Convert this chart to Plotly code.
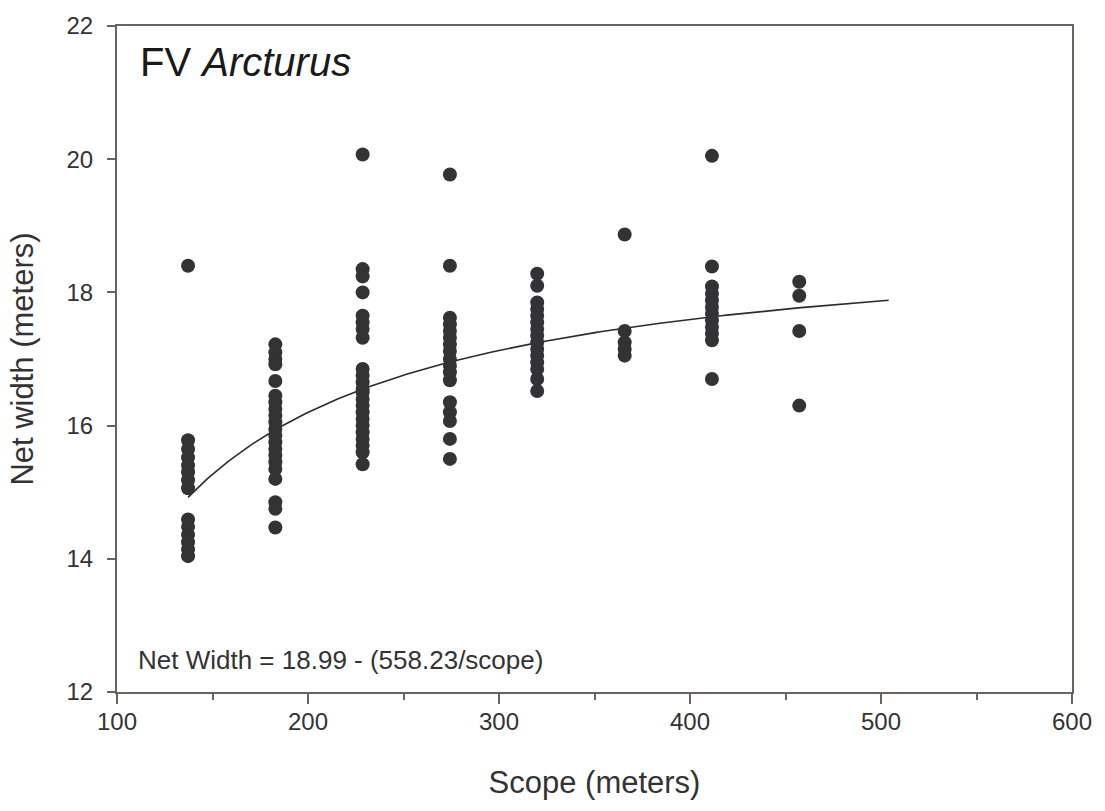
import numpy as np
import plotly.graph_objects as go

# Scope columns (meters) and observed net widths (meters)
scope_137 = [18.40, 15.78, 15.65, 15.52, 15.40, 15.30, 15.18, 15.06, 14.59, 14.48, 14.36, 14.25, 14.14, 14.04]
scope_183 = [17.22, 17.10, 17.00, 16.92, 16.67, 16.45, 16.35, 16.25, 16.15, 16.05, 15.95, 15.85,
             15.75, 15.65, 15.55, 15.45, 15.35, 15.20, 14.85, 14.75, 14.47]
scope_229 = [20.07, 18.35, 18.24, 18.00, 17.65, 17.55, 17.45, 17.32, 16.85, 16.75, 16.65, 16.55,
             16.50, 16.40, 16.30, 16.20, 16.10, 16.00, 15.90, 15.80, 15.70, 15.60, 15.42]
scope_274 = [19.77, 18.40, 17.62, 17.52, 17.42, 17.32, 17.22, 17.12, 17.00, 16.90, 16.80, 16.68,
             16.35, 16.20, 16.07, 15.80, 15.50]
scope_320 = [18.28, 18.10, 17.85, 17.75, 17.65, 17.55, 17.45, 17.35, 17.25, 17.15, 17.05, 16.95,
             16.85, 16.70, 16.52]
scope_366 = [18.87, 17.42, 17.25, 17.15, 17.05]
scope_411 = [20.05, 18.39, 18.09, 17.98, 17.88, 17.78, 17.68, 17.58, 17.48, 17.38, 17.28, 16.70]
scope_457 = [18.16, 17.95, 17.42, 16.30]

scopes = [137.2, 182.9, 228.6, 274.3, 320.0, 365.8, 411.5, 457.2]
widths = [scope_137, scope_183, scope_229, scope_274, scope_320, scope_366, scope_411, scope_457]

# Fitted model shown on the chart: Net Width = a - (b/scope)
fit_a = 18.99
fit_b = 558.23
fit_xmin, fit_xmax = 137.2, 504.0

xs, ys = [], []
for s, w in zip(scopes, widths):
    xs += [s] * len(w)
    ys += w

fx = np.linspace(fit_xmin, fit_xmax, 200)
fy = fit_a - fit_b / fx

font_fam = "Liberation Sans, Arial, sans-serif"
ink = "#333333"
axis_col = "#6a6360"

fig = go.Figure()
fig.add_trace(go.Scatter(x=fx, y=fy, mode="lines",
                         line=dict(color="#2e2a2a", width=1.6), hoverinfo="skip"))
fig.add_trace(go.Scatter(x=xs, y=ys, mode="markers",
                         marker=dict(color="#333336", size=14, line=dict(width=0))))

fig.update_layout(
    width=1105, height=811,
    margin=dict(l=117, r=33, t=20, b=119),
    paper_bgcolor="white", plot_bgcolor="white",
    showlegend=False,
    font=dict(family=font_fam, color=ink),
    xaxis=dict(range=[100, 600], tickvals=[100, 200, 300, 400, 500, 600],
               showgrid=False, zeroline=False,
               showline=True, linecolor=axis_col, linewidth=2, mirror=True,
               ticks="outside", ticklen=10, tickwidth=2, tickcolor=axis_col,
               minor=dict(tickvals=[150, 250, 350, 450, 550], ticks="outside",
                          ticklen=6, tickwidth=2, tickcolor=axis_col),
               ticklabelstandoff=-3,
               tickfont=dict(size=24, color=ink, family=font_fam),
               title=dict(text="Scope (meters)", font=dict(size=31, color=ink, family=font_fam),
                          standoff=38)),
    yaxis=dict(range=[12, 22], tickvals=[12, 14, 16, 18, 20, 22],
               showgrid=False, zeroline=False,
               showline=True, linecolor=axis_col, linewidth=2, mirror=True,
               ticks="outside", ticklen=8, tickwidth=2, tickcolor=axis_col,
               ticklabelstandoff=9,
               tickfont=dict(size=24, color=ink, family=font_fam),
               title=dict(text="Net width (meters)", font=dict(size=31, color=ink, family=font_fam),
                          standoff=24)),
    annotations=[
        dict(text="FV <i>Arcturus</i>", x=0.022, y=0.982, xref="paper", yref="paper",
             xanchor="left", yanchor="top", showarrow=False,
             font=dict(size=40, color="#1a1a1a", family=font_fam)),
        dict(text="Net Width = 18.99 - (558.23/scope)", x=0.02, y=0.022, xref="paper", yref="paper",
             xanchor="left", yanchor="bottom", showarrow=False,
             font=dict(size=26, color=ink, family=font_fam)),
    ],
)

fig.write_html("out.html")
